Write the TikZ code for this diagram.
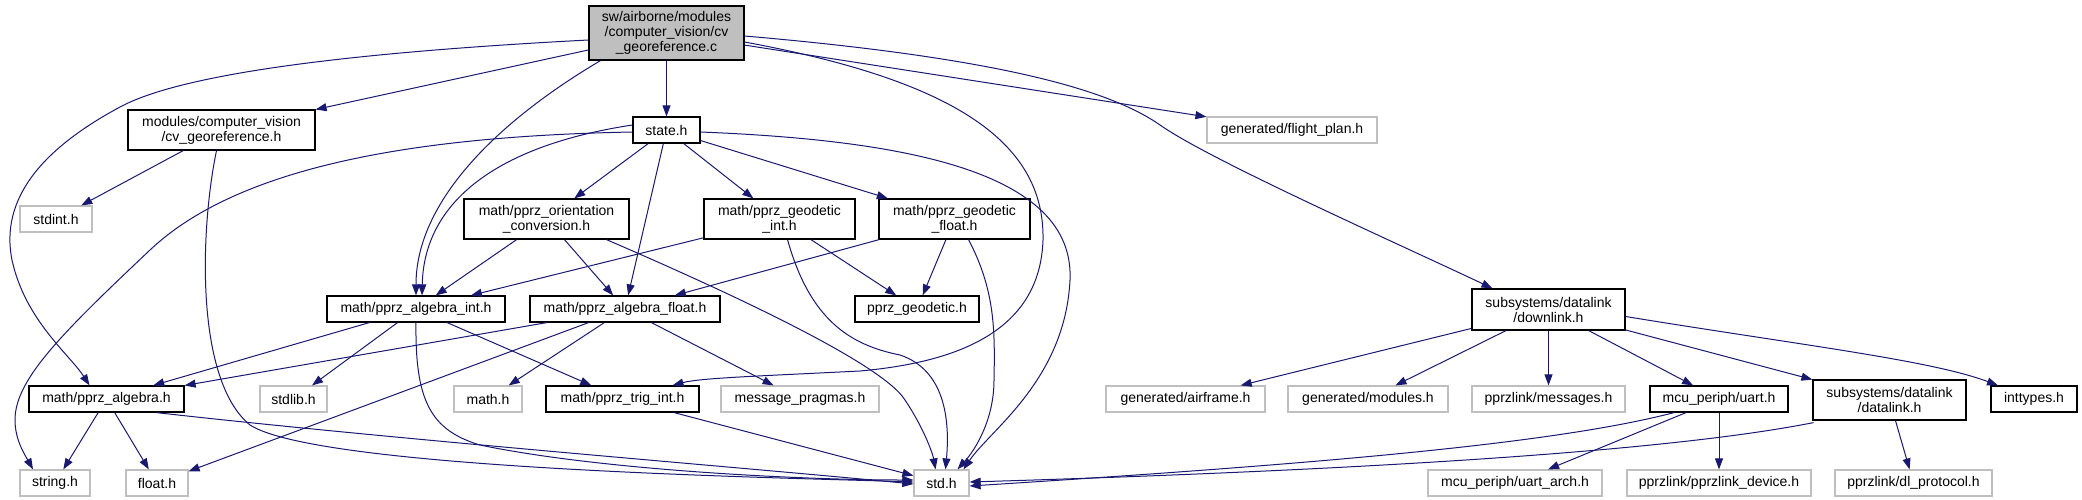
\documentclass[tikz,border=0pt]{standalone}
\usepackage{fontspec}
\setmainfont{Liberation Sans}
\usetikzlibrary{arrows.meta}
\definecolor{edgeblue}{RGB}{25,25,112}
\definecolor{boxgray}{RGB}{191,191,191}
\begin{document}
\begin{tikzpicture}[x=1pt, y=-1pt,
        doc/.style={shape=rectangle, draw=black, line width=1.2pt, inner sep=0, align=center, minimum height=26pt, font=\fontsize{14}{15}\selectfont},
        ext/.style={doc, draw=boxgray},
        dep/.style={draw=edgeblue, line width=1pt, -{Triangle[length=11pt, width=8pt]}}]
    \useasboundingbox (0, 0) rectangle (2082, 499);
    % Files:
    \node[doc, fill=boxgray, minimum width=155pt, minimum height=54pt](Main) at (666.5, 33){sw/airborne/modules\\/computer\_vision/cv\\\_georeference.c};
    \node[doc, minimum width=187pt, minimum height=40pt](CvGeo) at (221.5, 130){modules/computer\_vision\\/cv\_georeference.h};
    \node[doc, minimum width=67pt](State) at (666.5, 130){state.h};
    \node[ext, minimum width=170pt](FlightPlan) at (1292, 130){generated/flight\_plan.h};
    \node[ext, minimum width=72pt](Stdint) at (56, 219){stdint.h};
    \node[doc, minimum width=165pt, minimum height=40pt](Orient) at (546.5, 219){math/pprz\_orientation\\\_conversion.h};
    \node[doc, minimum width=151pt, minimum height=40pt](GeoInt) at (779.5, 219){math/pprz\_geodetic\\\_int.h};
    \node[doc, minimum width=151pt, minimum height=40pt](GeoFloat) at (954.5, 219){math/pprz\_geodetic\\\_float.h};
    \node[doc, minimum width=153pt, minimum height=41pt](Downlink) at (1548.5, 309.5){subsystems/datalink\\/downlink.h};
    \node[doc, minimum width=178pt](AlgInt) at (416, 309){math/pprz\_algebra\_int.h};
    \node[doc, minimum width=190pt](AlgFloat) at (625, 309){math/pprz\_algebra\_float.h};
    \node[doc, minimum width=124pt](Geodetic) at (917, 309){pprz\_geodetic.h};
    \node[doc, minimum width=155pt](Algebra) at (106.5, 399){math/pprz\_algebra.h};
    \node[ext, minimum width=67pt](Stdlib) at (293.5, 399){stdlib.h};
    \node[ext, minimum width=68pt](MathH) at (488, 399){math.h};
    \node[doc, minimum width=153pt](TrigInt) at (622.5, 399){math/pprz\_trig\_int.h};
    \node[ext, minimum width=158pt](Pragmas) at (800, 399){message\_pragmas.h};
    \node[ext, minimum width=159pt](Airframe) at (1185.5, 399){generated/airframe.h};
    \node[ext, minimum width=160pt](Modules) at (1368, 399){generated/modules.h};
    \node[ext, minimum width=153pt](Messages) at (1548.5, 399){pprzlink/messages.h};
    \node[doc, minimum width=138pt](Uart) at (1719, 399){mcu\_periph/uart.h};
    \node[doc, minimum width=153pt, minimum height=40pt](Datalink) at (1889.5, 400){subsystems/datalink\\/datalink.h};
    \node[doc, minimum width=86pt](Inttypes) at (2034, 399){inttypes.h};
    \node[ext, minimum width=70pt](StringH) at (55, 483){string.h};
    \node[ext, minimum width=62pt](FloatH) at (157, 483){float.h};
    \node[ext, minimum width=55pt](Std) at (941.5, 483){std.h};
    \node[ext, minimum width=174pt](UartArch) at (1515, 483){mcu\_periph/uart\_arch.h};
    \node[ext, minimum width=184pt](Device) at (1719, 483){pprzlink/pprzlink\_device.h};
    \node[ext, minimum width=157pt](DlProto) at (1913.5, 483){pprzlink/dl\_protocol.h};
    % Includes of the main file:
    \draw[dep] (Main) -- (CvGeo);
    \draw[dep] (Main) -- (State);
    \draw[dep] (Main) -- (FlightPlan);
    \draw[dep] ([yshift=-7pt]Main.west) .. controls (300, 55) and (170, 80) .. (120, 107) .. controls (40, 150) and (0, 200) .. (12, 260) .. controls (25, 320) and (70, 355) .. ([xshift=-17pt]Algebra.north);
    \draw[dep] ([xshift=-66pt]Main.south) .. controls (500, 120) and (416, 200) .. (AlgInt.north);
    \draw[dep] ([yshift=-9pt]Main.east) .. controls (950, 80) and (1045, 140) .. (1043, 240) .. controls (1040, 330) and (960, 362) .. (860, 371) .. controls (760, 376) and (700, 378) .. ([xshift=50pt]TrigInt.north);
    \draw[dep] ([yshift=-3pt]Main.east) .. controls (1000, 58) and (1110, 90) .. (1160, 125) .. controls (1210, 160) and (1390, 240) .. ([xshift=-56pt]Downlink.north);
    % state.h:
    \draw[dep] (State) -- (Orient);
    \draw[dep] (State) -- (AlgFloat);
    \draw[dep] (State) -- (GeoInt);
    \draw[dep] (State) -- (GeoFloat);
    \draw[dep] ([yshift=-2pt]State.east) .. controls (900, 140) and (1075, 170) .. (1070, 280) .. controls (1065, 380) and (990, 430) .. ([xshift=22pt]Std.north);
    \draw[dep] ([yshift=-2pt]State.west) .. controls (420, 136) and (240, 165) .. (150, 250) .. controls (60, 335) and (15, 380) .. (15, 420) .. controls (15, 440) and (25, 455) .. ([xshift=-22pt]StringH.north);
    \draw[dep] ([yshift=5pt]State.west) .. controls (500, 145) and (424, 200) .. ([xshift=6pt]AlgInt.north);
    % modules/computer_vision/cv_georeference.h:
    \draw[dep] (CvGeo) -- (Stdint);
    \draw[dep] ([xshift=-5pt]CvGeo.south) .. controls (200, 230) and (195, 380) .. (250, 425) .. controls (320, 470) and (800, 478) .. ([yshift=1pt]Std.west);
    % Orientation and geodetic headers:
    \draw[dep] (Orient) -- (AlgInt);
    \draw[dep] (Orient) -- (AlgFloat);
    \draw[dep] ([xshift=60pt]Orient.south) .. controls (700, 280) and (880, 360) .. (905, 400) .. controls (925, 430) and (933, 455) .. ([xshift=-6pt]Std.north);
    \draw[dep] (GeoInt) -- (AlgInt);
    \draw[dep] (GeoInt) -- (Geodetic);
    \draw[dep] ([xshift=8pt]GeoInt.south) .. controls (810, 320) and (850, 345) .. (900, 355) .. controls (945, 370) and (950, 420) .. ([xshift=4pt]Std.north);
    \draw[dep] (GeoFloat) -- (AlgFloat);
    \draw[dep] (GeoFloat) -- (Geodetic);
    \draw[dep] ([xshift=14pt]GeoFloat.south) .. controls (995, 290) and (995, 330) .. (994, 380) .. controls (994, 420) and (975, 450) .. ([xshift=16pt]Std.north);
    % Algebra headers:
    \draw[dep] (AlgInt) -- (Algebra);
    \draw[dep] (AlgInt) -- (Stdlib);
    \draw[dep] (AlgInt) -- (TrigInt);
    \draw[dep] (AlgInt.south) .. controls (415, 400) and (430, 430) .. (480, 445) .. controls (600, 470) and (800, 480) .. ([yshift=3pt]Std.west);
    \draw[dep] (AlgFloat) -- (Algebra);
    \draw[dep] (AlgFloat) -- (FloatH);
    \draw[dep] (AlgFloat) -- (MathH);
    \draw[dep] (AlgFloat) -- (Pragmas);
    \draw[dep] (Algebra) -- (StringH);
    \draw[dep] (Algebra) -- (FloatH);
    \draw[dep] ([xshift=50pt]Algebra.south) .. controls (400, 440) and (750, 468) .. ([yshift=-1pt]Std.west);
    \draw[dep] (TrigInt) -- (Std);
    % subsystems/datalink/downlink.h:
    \draw[dep] (Downlink) -- (Airframe);
    \draw[dep] (Downlink) -- (Modules);
    \draw[dep] (Downlink) -- (Messages);
    \draw[dep] (Downlink) -- (Uart);
    \draw[dep] (Downlink) -- (Datalink);
    \draw[dep] ([yshift=-7pt]Downlink.east) .. controls (1800, 345) and (1930, 360) .. ([xshift=-36pt]Inttypes.north);
    \draw[dep] ([xshift=-45pt]Uart.south) .. controls (1550, 445) and (1300, 465) .. ([yshift=-3pt]Std.east);
    \draw[dep] (Uart) -- (UartArch);
    \draw[dep] (Uart) -- (Device);
    \draw[dep] ([xshift=-76pt, yshift=-2pt]Datalink.south) .. controls (1650, 455) and (1300, 472) .. ([yshift=1pt]Std.east);
    \draw[dep] (Datalink) -- (DlProto);
\end{tikzpicture}
\end{document}
